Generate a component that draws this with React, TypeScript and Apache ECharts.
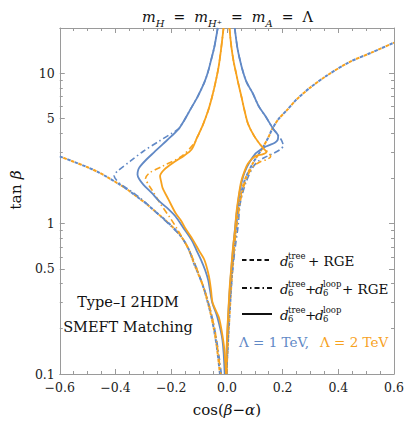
import React, { useEffect, useRef } from 'react';
import * as echarts from 'echarts';

const BLUE = '#6189C6';
const ORANGE = '#F7A21E';
const FRAME = '#9a9a9a';
const SERIF = 'DejaVu Serif';

// axis ticks / labels
const xMin = -0.6;
const xMax = 0.6;
const xStep = 0.2;
const yMin = 0.1;
const yMax = 20;
const yLabelValues = [0.1, 0.5, 1, 5, 10];
const yMinorTickValues = [0.2, 0.3, 0.4, 0.6, 0.7, 0.8, 0.9, 2, 3, 4, 6, 7, 8, 9];

// d6tree + RGE (dashed)
const treeRgeLeft1TeV: [number, number][] = [
  [-0.6, 2.8], [-0.55, 2.58], [-0.5, 2.37], [-0.462, 2.2], [-0.43, 2.04], [-0.393, 1.86],
  [-0.36, 1.7], [-0.323, 1.51], [-0.29, 1.36], [-0.254, 1.19], [-0.22, 1.05], [-0.185, 0.91],
  [-0.16, 0.8], [-0.138, 0.68], [-0.116, 0.53], [-0.1, 0.45], [-0.085, 0.38], [-0.071, 0.31],
  [-0.058, 0.25], [-0.047, 0.2], [-0.036, 0.15], [-0.025, 0.1],
];
const treeRgeLeft2TeV: [number, number][] = [
  [-0.6, 2.8], [-0.55, 2.58], [-0.5, 2.37], [-0.462, 2.2], [-0.43, 2.04], [-0.393, 1.86],
  [-0.36, 1.7], [-0.323, 1.51], [-0.29, 1.36], [-0.254, 1.19], [-0.22, 1.05], [-0.185, 0.91],
  [-0.16, 0.8], [-0.138, 0.68], [-0.116, 0.53], [-0.1, 0.45], [-0.085, 0.38], [-0.071, 0.31],
  [-0.058, 0.25], [-0.047, 0.2], [-0.036, 0.15], [-0.025, 0.1],
];
const treeRgeRight1TeV: [number, number][] = [
  [-0.002, 0.1], [0.003, 0.15], [0.008, 0.22], [0.013, 0.32], [0.018, 0.45], [0.024, 0.62],
  [0.029, 0.8], [0.034, 1.0], [0.045, 1.4], [0.063, 1.92], [0.092, 2.5], [0.126, 3.15],
  [0.149, 3.75], [0.162, 4.24], [0.185, 4.95], [0.218, 5.75], [0.25, 6.7], [0.299, 8.03],
  [0.357, 9.6], [0.437, 11.8], [0.518, 13.7], [0.6, 16.0],
];
const treeRgeRight2TeV: [number, number][] = [
  [-0.002, 0.1], [0.003, 0.15], [0.008, 0.22], [0.013, 0.32], [0.018, 0.45], [0.024, 0.62],
  [0.029, 0.8], [0.034, 1.0], [0.045, 1.4], [0.063, 1.92], [0.092, 2.5], [0.126, 3.15],
  [0.149, 3.75], [0.162, 4.24], [0.185, 4.95], [0.218, 5.75], [0.25, 6.7], [0.299, 8.03],
  [0.357, 9.6], [0.437, 11.8], [0.518, 13.7], [0.6, 16.0],
];

// d6tree + d6loop + RGE (dash-dot)
const treeLoopRgeLeft1TeV: [number, number][] = [
  [-0.033, 20], [-0.045, 15], [-0.057, 12.2], [-0.068, 10.2], [-0.081, 8.7], [-0.105, 7],
  [-0.133, 5.67], [-0.155, 4.8], [-0.175, 4.25], [-0.197, 4.0], [-0.243, 3.54], [-0.3, 3.03],
  [-0.347, 2.6], [-0.393, 2.23], [-0.405, 2.08], [-0.38, 1.82], [-0.347, 1.66], [-0.3, 1.42],
  [-0.25, 1.17], [-0.2, 0.96], [-0.16, 0.8], [-0.13, 0.63], [-0.108, 0.5], [-0.08, 0.36],
  [-0.058, 0.26], [-0.042, 0.19], [-0.028, 0.13], [-0.02, 0.1],
];
const treeLoopRgeRight1TeV: [number, number][] = [
  [0.028, 20], [0.037, 15], [0.047, 12.2], [0.058, 10.2], [0.071, 8.7], [0.092, 7.4],
  [0.115, 6.0], [0.138, 5.19], [0.165, 4.3], [0.185, 3.85], [0.197, 3.55], [0.202, 3.3],
  [0.19, 3.1], [0.161, 2.9], [0.135, 2.75], [0.11, 2.58], [0.092, 2.35],
  [0.068, 1.87], [0.048, 1.37], [0.04, 0.96], [0.03, 0.7], [0.02, 0.48], [0.012, 0.32],
  [0.005, 0.2], [0.0, 0.1],
];
const treeLoopRgeLeft2TeV: [number, number][] = [
  [-0.012, 20], [-0.022, 14], [-0.03, 11], [-0.041, 8.7], [-0.053, 7], [-0.067, 5.67],
  [-0.087, 4.5], [-0.105, 3.8], [-0.116, 3.45], [-0.162, 2.81], [-0.231, 2.41], [-0.277, 2.18],
  [-0.292, 2.0], [-0.28, 1.8], [-0.266, 1.64], [-0.237, 1.34], [-0.205, 1.1], [-0.18, 0.93],
  [-0.152, 0.76], [-0.128, 0.62], [-0.108, 0.5], [-0.08, 0.36], [-0.058, 0.26], [-0.04, 0.18],
  [-0.022, 0.1],
];
const treeLoopRgeRight2TeV: [number, number][] = [
  [0.009, 20], [0.016, 15], [0.024, 12], [0.033, 10], [0.04, 8.7], [0.052, 7], [0.063, 5.67],
  [0.076, 4.6], [0.097, 3.85], [0.12, 3.35], [0.138, 3.1], [0.15, 2.95], [0.157, 2.8],
  [0.145, 2.68], [0.12, 2.58], [0.095, 2.4], [0.075, 2.1], [0.06, 1.75], [0.048, 1.4],
  [0.038, 1.05], [0.03, 0.8], [0.022, 0.56], [0.014, 0.38], [0.007, 0.24], [0.002, 0.15],
  [-0.001, 0.1],
];

// d6tree + d6loop (solid)
const treeLoopLeft1TeV: [number, number][] = [
  [-0.033, 20], [-0.045, 15], [-0.057, 12.2], [-0.068, 10.2], [-0.081, 8.7], [-0.105, 7],
  [-0.133, 5.67], [-0.155, 4.8], [-0.174, 4.24], [-0.2, 3.8], [-0.231, 3.37], [-0.26, 3.0],
  [-0.289, 2.67], [-0.31, 2.42], [-0.318, 2.29], [-0.321, 2.12], [-0.315, 1.98], [-0.3, 1.82],
  [-0.27, 1.6], [-0.243, 1.41], [-0.21, 1.25], [-0.185, 1.12], [-0.155, 0.93], [-0.127, 0.78],
  [-0.11, 0.67], [-0.093, 0.575], [-0.078, 0.49], [-0.067, 0.42], [-0.053, 0.3],
  [-0.035, 0.241], [-0.016, 0.168], [-0.008, 0.1],
];
const treeLoopRight1TeV: [number, number][] = [
  [0.028, 20], [0.037, 15], [0.047, 12.2], [0.058, 10.2], [0.071, 8.7], [0.092, 7.4],
  [0.115, 6.0], [0.138, 5.19], [0.167, 4.24], [0.184, 3.82], [0.182, 3.6], [0.172, 3.45],
  [0.155, 3.34], [0.138, 3.25], [0.118, 3.08], [0.103, 2.93], [0.08, 2.54], [0.066, 2.25],
  [0.057, 2.02], [0.049, 1.75], [0.043, 1.52], [0.037, 1.25], [0.032, 1.05], [0.027, 0.85],
  [0.021, 0.65], [0.015, 0.48], [0.009, 0.34], [0.004, 0.23], [0.0, 0.16], [-0.004, 0.1],
];
const treeLoopLeft2TeV: [number, number][] = [
  [-0.012, 20], [-0.022, 14], [-0.03, 11], [-0.041, 8.7], [-0.053, 7], [-0.067, 5.67],
  [-0.087, 4.5], [-0.107, 3.74], [-0.127, 3.11], [-0.155, 2.82], [-0.185, 2.6], [-0.225, 2.29],
  [-0.24, 2.07], [-0.236, 1.9], [-0.231, 1.73], [-0.21, 1.45], [-0.185, 1.18], [-0.165, 1.05],
  [-0.15, 0.935], [-0.122, 0.78], [-0.1, 0.66], [-0.081, 0.575], [-0.065, 0.45], [-0.057, 0.36],
  [-0.052, 0.3], [-0.04, 0.265], [-0.028, 0.235], [-0.018, 0.19], [-0.01, 0.15], [-0.003, 0.1],
];
const treeLoopRight2TeV: [number, number][] = [
  [0.009, 20], [0.016, 15], [0.024, 12], [0.033, 10], [0.04, 8.7], [0.052, 7], [0.063, 5.67],
  [0.076, 4.6], [0.097, 3.85], [0.12, 3.35], [0.136, 3.1], [0.142, 3.0], [0.13, 2.9],
  [0.1, 2.8], [0.075, 2.5], [0.062, 2.2], [0.051, 1.9], [0.042, 1.52], [0.034, 1.18],
  [0.029, 0.91], [0.022, 0.7], [0.016, 0.52], [0.01, 0.38], [0.005, 0.26], [0.0, 0.17],
  [-0.002, 0.1],
];

const DASH = [3.5, 4.5];
const DASHDOT = [6, 3, 1.5, 3];

function mk(name: string, data: [number, number][], color: string, type: any, width: number, dashOffset = 0) {
  return {
    type: 'line',
    name,
    data,
    xAxisIndex: 0,
    yAxisIndex: 0,
    showSymbol: false,
    symbol: 'none',
    smooth: 0.3,
    clip: true,
    silent: true,
    lineStyle: { color, width, type, dashOffset, cap: 'butt' },
  };
}

const tickLabelStyle = { fontFamily: SERIF, fontSize: 12.5, color: '#222' };
const txt = (x: number, y: number, text: string, extra: any = {}) => ({
  type: 'text',
  x,
  y,
  style: {
    text,
    fontFamily: SERIF,
    fontSize: 13.5,
    fill: '#111',
    align: 'left',
    verticalAlign: 'middle',
    ...extra,
  },
});

export default function App() {
  const ref = useRef<HTMLDivElement>(null);
  useEffect(() => {
    const chart = echarts.init(ref.current!, null, { renderer: 'svg' });
    const fmtX = (v: number) => (v < 0 ? '\u2212' : '') + Math.abs(v).toFixed(1);
    const xAxisBase = {
      type: 'value',
      min: xMin,
      max: xMax,
      interval: xStep,
      splitLine: { show: false },
      axisLine: { show: true, onZero: false, lineStyle: { color: FRAME, width: 1 } },
      axisTick: { show: true, inside: true, length: 5, lineStyle: { color: FRAME } },
      minorTick: { show: true, splitNumber: 4, length: 3, lineStyle: { color: FRAME } },
    };
    const yAxisBase = {
      type: 'log',
      logBase: 10,
      min: yMin,
      max: yMax,
      splitLine: { show: false },
      minorTick: { show: false },
      minorSplitLine: { show: false },
    };
    const tokenBase = { fontFamily: SERIF, fontWeight: 'normal', color: '#111' };
    const option: any = {
      animation: false,
      backgroundColor: '#fff',
      textStyle: { fontFamily: SERIF },
      title: {
        left: 137,
        top: 1,
        text: '{m|m}{s|H}{e|=}{m|m}{s|H\u207A}{e|=}{m|m}{s|A}{e|=}{r|\u039B}',
        textStyle: {
          fontFamily: SERIF,
          fontWeight: 'normal',
          rich: {
            m: { ...tokenBase, fontStyle: 'italic', fontSize: 14.5, lineHeight: 22 },
            s: { ...tokenBase, fontStyle: 'italic', fontSize: 10, lineHeight: 11, verticalAlign: 'bottom' },
            e: { ...tokenBase, fontSize: 14, lineHeight: 22, padding: [0, 9, 0, 9] },
            r: { ...tokenBase, fontSize: 14.5, lineHeight: 22 },
          },
        },
      },
      grid: { left: 50, right: 10, top: 28, bottom: 52, containLabel: false },
      xAxis: [
        {
          ...xAxisBase,
          position: 'bottom',
          axisLabel: { ...tickLabelStyle, margin: 7, formatter: fmtX },
          name: '{r|cos(}{i|\u03B2}{r|\u2212}{i|\u03B1}{r|)}',
          nameLocation: 'middle',
          nameGap: 28,
          nameTextStyle: {
            fontFamily: SERIF,
            rich: {
              r: { ...tokenBase, fontSize: 15 },
              i: { ...tokenBase, fontSize: 15, fontStyle: 'italic' },
            },
          },
        },
        { ...xAxisBase, position: 'top', axisLabel: { show: false } },
      ],
      yAxis: [
        {
          ...yAxisBase,
          position: 'left',
          axisLine: { show: true, onZero: false, lineStyle: { color: FRAME, width: 1 } },
          axisTick: { show: true, inside: true, length: 5, lineStyle: { color: FRAME }, customValues: yLabelValues },
          axisLabel: { ...tickLabelStyle, margin: 5, customValues: yLabelValues, formatter: (v: number) => String(v) },
          name: '{r|tan }{i|\u03B2}',
          nameLocation: 'middle',
          nameRotate: 90,
          nameGap: 34,
          nameTextStyle: {
            fontFamily: SERIF,
            padding: [0, 0, 0, 22],
            rich: {
              r: { ...tokenBase, fontSize: 15.5 },
              i: { ...tokenBase, fontSize: 15.5, fontStyle: 'italic' },
            },
          },
        },
        {
          ...yAxisBase,
          position: 'left',
          axisLine: { show: false, onZero: false },
          axisTick: { show: true, inside: true, length: 3, lineStyle: { color: FRAME }, customValues: yMinorTickValues },
          axisLabel: { show: false },
        },
        {
          ...yAxisBase,
          position: 'right',
          axisLine: { show: true, onZero: false, lineStyle: { color: FRAME, width: 1 } },
          axisTick: { show: true, inside: true, length: 5, lineStyle: { color: FRAME }, customValues: yLabelValues },
          axisLabel: { show: false },
        },
        {
          ...yAxisBase,
          position: 'right',
          axisLine: { show: false, onZero: false },
          axisTick: { show: true, inside: true, length: 3, lineStyle: { color: FRAME }, customValues: yMinorTickValues },
          axisLabel: { show: false },
        },
      ],
      series: [
        mk('tree+RGE 1 TeV left', treeRgeLeft1TeV, BLUE, DASH, 2, 0),
        mk('tree+RGE 2 TeV left', treeRgeLeft2TeV, ORANGE, DASH, 2, 4),
        mk('tree+RGE 1 TeV right', treeRgeRight1TeV, BLUE, DASH, 2, 0),
        mk('tree+RGE 2 TeV right', treeRgeRight2TeV, ORANGE, DASH, 2, 4),
        mk('tree+loop+RGE 1 TeV left', treeLoopRgeLeft1TeV, BLUE, DASHDOT, 1.6),
        mk('tree+loop+RGE 1 TeV right', treeLoopRgeRight1TeV, BLUE, DASHDOT, 1.6),
        mk('tree+loop+RGE 2 TeV left', treeLoopRgeLeft2TeV, ORANGE, DASHDOT, 1.6),
        mk('tree+loop+RGE 2 TeV right', treeLoopRgeRight2TeV, ORANGE, DASHDOT, 1.6),
        mk('tree+loop 1 TeV left', treeLoopLeft1TeV, BLUE, 'solid', 1.8),
        mk('tree+loop 1 TeV right', treeLoopRight1TeV, BLUE, 'solid', 1.8),
        mk('tree+loop 2 TeV left', treeLoopLeft2TeV, ORANGE, 'solid', 1.8),
        mk('tree+loop 2 TeV right', treeLoopRight2TeV, ORANGE, 'solid', 1.8),
      ],
      graphic: [
        // legend samples
        { type: 'line', shape: { x1: 242, y1: 260, x2: 272, y2: 260 }, style: { stroke: '#111', lineWidth: 2, lineDash: [4.5, 3] } },
        { type: 'line', shape: { x1: 242, y1: 288, x2: 272, y2: 288 }, style: { stroke: '#111', lineWidth: 2, lineDash: [5, 3, 1.5, 3] } },
        { type: 'line', shape: { x1: 242, y1: 314, x2: 272, y2: 314 }, style: { stroke: '#111', lineWidth: 2 } },
        // row 1
        txt(280, 261, 'd', { fontStyle: 'italic' }),
        txt(288, 260, 'tree\n6', { fontSize: 8.5, lineHeight: 9 }),
        txt(308, 261, '+ RGE'),
        // row 2
        txt(280, 289, 'd', { fontStyle: 'italic' }),
        txt(288, 288, 'tree\n6', { fontSize: 8.5, lineHeight: 9 }),
        txt(305, 289, '+'),
        txt(315, 289, 'd', { fontStyle: 'italic' }),
        txt(323, 288, 'loop\n6', { fontSize: 8.5, lineHeight: 9 }),
        txt(342, 289, '+ RGE'),
        // row 3
        txt(280, 315, 'd', { fontStyle: 'italic' }),
        txt(288, 314, 'tree\n6', { fontSize: 8.5, lineHeight: 9 }),
        txt(305, 315, '+'),
        txt(315, 315, 'd', { fontStyle: 'italic' }),
        txt(323, 314, 'loop\n6', { fontSize: 8.5, lineHeight: 9 }),
        // Lambda labels
        txt(239, 342, '\u039B = 1 TeV,', { fill: BLUE }),
        txt(320, 342, '\u039B = 2 TeV', { fill: ORANGE }),
        // model text
        txt(128, 302, 'Type\u2013I 2HDM', { fontSize: 14.5, align: 'center' }),
        txt(128, 327, 'SMEFT Matching', { fontSize: 14.5, align: 'center' }),
      ],
    };
    chart.setOption(option);
    return () => chart.dispose();
  }, []);
  return <div ref={ref} style={{ position: 'absolute', left: 0, top: 0, width: 407, height: 426 }} />;
}
